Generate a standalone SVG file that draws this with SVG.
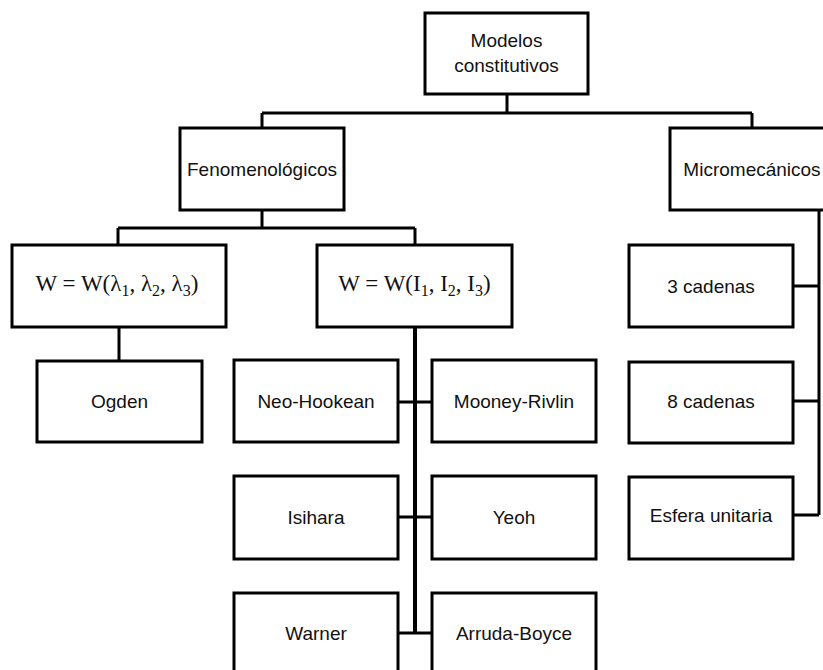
<svg xmlns="http://www.w3.org/2000/svg" width="823" height="670" viewBox="0 0 823 670">
<style>
.box{fill:#fff;stroke:#000;stroke-width:3}
.t{font-family:"Liberation Sans",Arial,sans-serif;font-size:19px;fill:#111;text-anchor:middle}
.m{font-family:"Liberation Serif","Times New Roman",serif;font-size:23px;fill:#111;text-anchor:middle}
.s{font-size:16px}
.c{fill:none;stroke:#000;stroke-width:3}
</style>
<rect width="823" height="670" fill="#fff"/>
<g id="connectors" class="c">
<path d="M507,94V113M262,113H752M262,113V128M752,113V128"/>
<path d="M262,210V228M118,228H415M118,228V245M415,228V245"/>
<path d="M119,327V361"/>
<path d="M415,327V633" stroke-width="4"/>
<path d="M398,402H432M398,517H432M398,633H432"/>
<path d="M819,210V515M793,286H819M793,401H819M793,515H819"/>
</g>
<g id="n-modelos"><rect class="box" x="425" y="13" width="163" height="81"/><text class="t" x="506.5" y="47">Modelos</text><text class="t" x="506.5" y="72">constitutivos</text></g>
<g id="n-fen"><rect class="box" x="180" y="128" width="164" height="82"/><text class="t" x="262" y="176">Fenomenológicos</text></g>
<g id="n-micro"><rect class="box" x="670" y="128" width="170" height="82"/><text class="t" x="752" y="176">Micromecánicos</text></g>
<g id="n-wl"><rect class="box" x="12" y="245" width="214" height="82"/><text class="m" x="117" y="291">W = W(λ<tspan class="s" dy="5">1</tspan><tspan dy="-5">, λ</tspan><tspan class="s" dy="5">2</tspan><tspan dy="-5">, λ</tspan><tspan class="s" dy="5">3</tspan><tspan dy="-5">)</tspan></text></g>
<g id="n-wi"><rect class="box" x="317" y="245" width="195" height="82"/><text class="m" x="414.5" y="291">W = W(I<tspan class="s" dy="5">1</tspan><tspan dy="-5">, I</tspan><tspan class="s" dy="5">2</tspan><tspan dy="-5">, I</tspan><tspan class="s" dy="5">3</tspan><tspan dy="-5">)</tspan></text></g>
<g id="n-ogden"><rect class="box" x="37" y="361" width="165" height="81"/><text class="t" x="119.5" y="408">Ogden</text></g>
<g id="n-neo"><rect class="box" x="234" y="360" width="164" height="82"/><text class="t" x="316" y="408">Neo-Hookean</text></g>
<g id="n-mooney"><rect class="box" x="432" y="360" width="164" height="82"/><text class="t" x="514" y="408">Mooney-Rivlin</text></g>
<g id="n-isihara"><rect class="box" x="234" y="476" width="164" height="83"/><text class="t" x="316" y="524">Isihara</text></g>
<g id="n-yeoh"><rect class="box" x="432" y="476" width="164" height="83"/><text class="t" x="514" y="524">Yeoh</text></g>
<g id="n-warner"><rect class="box" x="234" y="593" width="164" height="85"/><text class="t" x="316" y="640">Warner</text></g>
<g id="n-arruda"><rect class="box" x="432" y="593" width="164" height="85"/><text class="t" x="514" y="640">Arruda-Boyce</text></g>
<g id="n-3c"><rect class="box" x="629" y="245" width="164" height="82"/><text class="t" x="711" y="293">3 cadenas</text></g>
<g id="n-8c"><rect class="box" x="629" y="362" width="164" height="81"/><text class="t" x="711" y="408">8 cadenas</text></g>
<g id="n-esfera"><rect class="box" x="629" y="477" width="164" height="82"/><text class="t" x="711" y="522">Esfera unitaria</text></g>
</svg>
